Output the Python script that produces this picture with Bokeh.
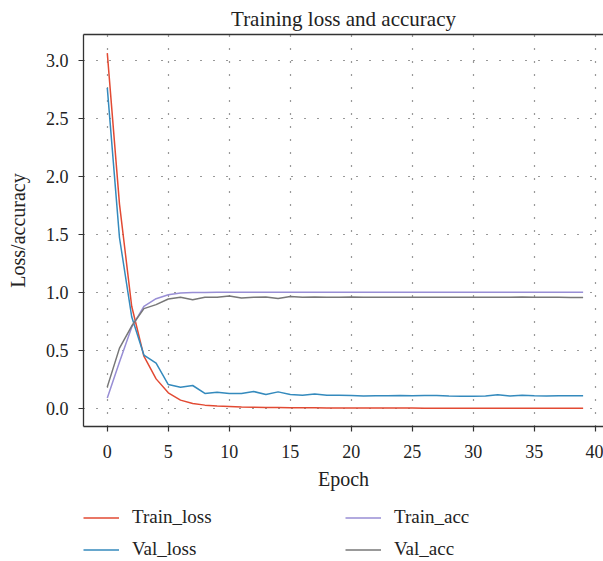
from bokeh.plotting import figure
from bokeh.models import Range1d, Legend, LegendItem, FixedTicker, NumeralTickFormatter, ColumnDataSource, LinearAxis
from bokeh.layouts import column
from bokeh.embed import file_html
from bokeh.resources import INLINE

epochs = list(range(40))
train_loss = [3.06, 1.76, 0.88, 0.45, 0.255, 0.135, 0.072, 0.043, 0.029, 0.021,
              0.017, 0.013, 0.011, 0.009, 0.008, 0.007, 0.006, 0.006, 0.005, 0.005,
              0.005, 0.004, 0.004, 0.004, 0.004, 0.004, 0.003, 0.003, 0.003, 0.003,
              0.003, 0.003, 0.003, 0.003, 0.003, 0.003, 0.003, 0.003, 0.003, 0.003]
val_loss = [2.76, 1.47, 0.79, 0.46, 0.39, 0.206, 0.183, 0.198, 0.13, 0.14,
            0.129, 0.129, 0.146, 0.12, 0.143, 0.12, 0.115, 0.125, 0.115, 0.115,
            0.112, 0.108, 0.11, 0.11, 0.112, 0.11, 0.112, 0.112, 0.108, 0.105,
            0.105, 0.108, 0.118, 0.108, 0.115, 0.11, 0.108, 0.11, 0.11, 0.11]
train_acc = [0.09, 0.40, 0.70, 0.88, 0.945, 0.98, 0.994, 0.998, 0.999, 1.0,
             1.0, 1.0, 1.0, 1.0, 1.0, 1.0, 1.0, 1.0, 1.0, 1.0,
             1.0, 1.0, 1.0, 1.0, 1.0, 1.0, 1.0, 1.0, 1.0, 1.0,
             1.0, 1.0, 1.0, 1.0, 1.0, 1.0, 1.0, 1.0, 1.0, 1.0]
val_acc = [0.186, 0.52, 0.71, 0.86, 0.894, 0.943, 0.957, 0.937, 0.957, 0.957,
           0.968, 0.951, 0.957, 0.96, 0.948, 0.965, 0.958, 0.96, 0.957, 0.958,
           0.96, 0.958, 0.957, 0.958, 0.958, 0.957, 0.958, 0.958, 0.957, 0.958,
           0.958, 0.957, 0.957, 0.958, 0.96, 0.958, 0.958, 0.957, 0.956, 0.956]
series_names = ["Train_loss", "Val_loss", "Train_acc", "Val_acc"]
series_colors = ["#E24A33", "#348ABD", "#988ED5", "#777777"]
x_ticks = [0, 5, 10, 15, 20, 25, 30, 35, 40]
y_ticks = [0.0, 0.5, 1.0, 1.5, 2.0, 2.5, 3.0]

FONT = "Liberation Serif"
TXT = "#222222"
SPINE = "#333333"
data = [train_loss, val_loss, train_acc, val_acc]

p = figure(width=603, height=497, output_backend="svg", toolbar_location=None,
           x_range=Range1d(-1.95, 40.67), y_range=Range1d(-0.155, 3.22),
           title="Training loss and accuracy",
           min_border_left=83, min_border_right=0, min_border_top=0, min_border_bottom=71)

p.title.align = "center"
p.title.text_font = FONT
p.title.text_font_size = "21px"
p.title.text_font_style = "normal"
p.title.text_color = TXT
p.title.standoff = 8

for name, col, ys in zip(series_names, series_colors, data):
    src = ColumnDataSource(dict(x=epochs, y=ys))
    p.line("x", "y", source=src, line_color=col, line_width=1.5)

p.outline_line_color = None
p.background_fill_color = "white"
p.border_fill_color = "white"

xax = p.below[0]
yax = p.left[0]

for ax in (xax, yax):
    ax.axis_line_color = SPINE
    ax.axis_line_width = 1.3
    ax.major_tick_line_color = SPINE
    ax.major_tick_line_width = 1.2
    ax.major_tick_out = 5
    ax.major_tick_in = 0
    ax.minor_tick_out = 0
    ax.minor_tick_in = 0
    ax.major_label_text_font = FONT
    ax.major_label_text_font_size = "18px"
    ax.major_label_text_color = TXT
    ax.axis_label_text_font = FONT
    ax.axis_label_text_font_size = "20px"
    ax.axis_label_text_font_style = "normal"
    ax.axis_label_text_color = TXT

xax.ticker = FixedTicker(ticks=x_ticks)
yax.ticker = FixedTicker(ticks=y_ticks)
yax.formatter = NumeralTickFormatter(format="0.0")
xax.axis_label = "Epoch"
yax.axis_label = "Loss/accuracy"
xax.major_label_standoff = 13
xax.axis_label_standoff = 7
yax.major_label_standoff = 10
yax.axis_label_standoff = 14

for g in (p.xgrid[0], p.ygrid[0]):
    g.grid_line_color = SPINE
    g.grid_line_dash = "1 12"
    g.grid_line_width = 1.2
p.xgrid[0].ticker = FixedTicker(ticks=x_ticks)
p.ygrid[0].ticker = FixedTicker(ticks=y_ticks)

# top spine only (no right spine is visible in the reference)
top_axis = LinearAxis(ticker=FixedTicker(ticks=[]), axis_line_color=SPINE, axis_line_width=1.3,
                      major_tick_out=0, major_tick_in=0, minor_tick_out=0, minor_tick_in=0,
                      major_label_standoff=0, major_label_text_font_size="0px")
p.add_layout(top_axis, "above")

# legend strip below the plot (its frame is aligned with the plot frame)
lf = figure(width=603, height=64, output_backend="svg", toolbar_location=None,
            x_range=Range1d(-200, -199), y_range=Range1d(-200, -199),
            x_axis_location=None, y_axis_location=None,
            min_border=0, outline_line_color=None)
lf.xgrid.visible = False
lf.ygrid.visible = False
lrs = []
for name, col, ys in zip(series_names, series_colors, data):
    src = ColumnDataSource(dict(x=epochs, y=ys))
    lrs.append(lf.line("x", "y", source=src, line_color=col, line_width=1.5))

legend_cols = [[0, 1], [2, 3]]
legend_x = [0, 262]
for cols, lx in zip(legend_cols, legend_x):
    items = [LegendItem(label=series_names[i], renderers=[lrs[i]]) for i in cols]
    lg = Legend(items=items, orientation="vertical",
                border_line_color=None, background_fill_alpha=0,
                label_text_font=FONT, label_text_font_size="19px", label_text_color=TXT,
                glyph_width=36, label_standoff=13, spacing=10,
                label_height=21, glyph_height=21, padding=0, margin=0,
                location=(lx, 1))
    lf.add_layout(lg, "center")

layout = column(p, lf, spacing=0)
open("out.html", "w").write(file_html(layout, INLINE))
